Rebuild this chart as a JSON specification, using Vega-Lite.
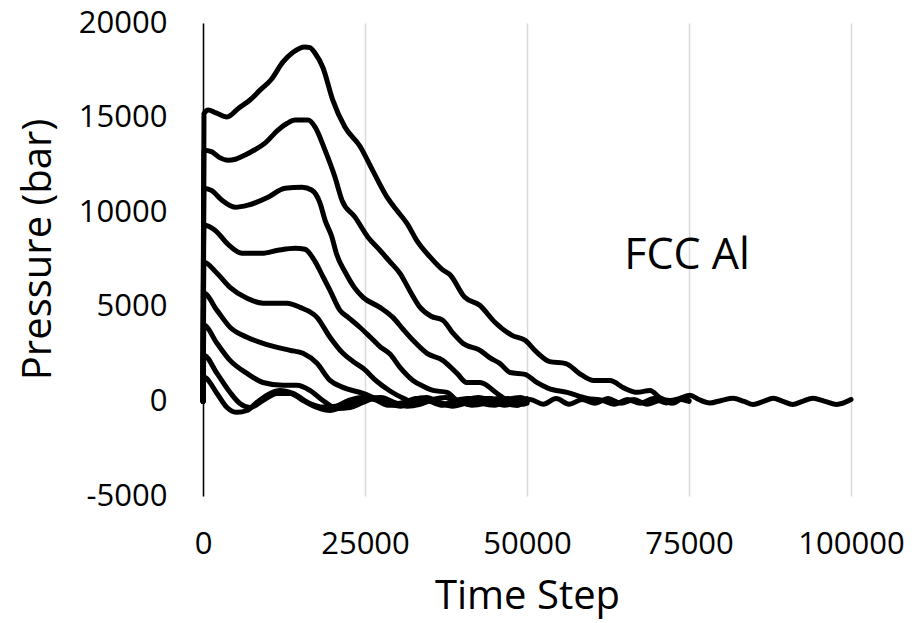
{
  "$schema": "https://vega.github.io/schema/vega-lite/v6.json",
  "width": 648,
  "height": 473,
  "autosize": "none",
  "padding": {"left": 203, "top": 23, "right": 67, "bottom": 127},
  "background": "white",
  "config": {"view": {"stroke": null}, "font": "Open Sans"},
  "datasets": {
    "curves": [
      {"c": 1, "t": 0, "p": 0}, {"c": 1, "t": 150, "p": 15200}, {"c": 1, "t": 800, "p": 15400}, {"c": 1, "t": 2000, "p": 15250}, {"c": 1, "t": 3700, "p": 15030}, {"c": 1, "t": 5500, "p": 15500}, {"c": 1, "t": 7250, "p": 15930}, {"c": 1, "t": 8800, "p": 16450}, {"c": 1, "t": 10500, "p": 17000}, {"c": 1, "t": 12350, "p": 17940}, {"c": 1, "t": 13900, "p": 18450}, {"c": 1, "t": 15700, "p": 18730}, {"c": 1, "t": 16500, "p": 18700}, {"c": 1, "t": 17300, "p": 18400}, {"c": 1, "t": 18500, "p": 17650}, {"c": 1, "t": 20000, "p": 15950}, {"c": 1, "t": 21900, "p": 14500}, {"c": 1, "t": 24200, "p": 13500}, {"c": 1, "t": 26200, "p": 12200}, {"c": 1, "t": 28400, "p": 10800}, {"c": 1, "t": 29900, "p": 10100}, {"c": 1, "t": 31500, "p": 9400}, {"c": 1, "t": 33000, "p": 8500}, {"c": 1, "t": 35000, "p": 7650}, {"c": 1, "t": 37000, "p": 6950}, {"c": 1, "t": 38100, "p": 6700}, {"c": 1, "t": 40400, "p": 5500}, {"c": 1, "t": 42700, "p": 5080}, {"c": 1, "t": 45000, "p": 4200}, {"c": 1, "t": 47700, "p": 3490}, {"c": 1, "t": 49700, "p": 3230}, {"c": 1, "t": 51500, "p": 2600}, {"c": 1, "t": 53500, "p": 2100}, {"c": 1, "t": 56000, "p": 2000}, {"c": 1, "t": 58000, "p": 1500}, {"c": 1, "t": 60200, "p": 1110}, {"c": 1, "t": 62800, "p": 1100}, {"c": 1, "t": 65000, "p": 700}, {"c": 1, "t": 67000, "p": 480}, {"c": 1, "t": 69000, "p": 580}, {"c": 1, "t": 70500, "p": 200}, {"c": 1, "t": 72000, "p": 50}, {"c": 1, "t": 73500, "p": 150}, {"c": 1, "t": 75150, "p": 320}, {"c": 1, "t": 76500, "p": 100}, {"c": 1, "t": 78200, "p": -80}, {"c": 1, "t": 80000, "p": 50}, {"c": 1, "t": 81800, "p": 160}, {"c": 1, "t": 83500, "p": 0}, {"c": 1, "t": 84900, "p": -160}, {"c": 1, "t": 86500, "p": 0}, {"c": 1, "t": 88000, "p": 160}, {"c": 1, "t": 89500, "p": 0}, {"c": 1, "t": 91000, "p": -160}, {"c": 1, "t": 92500, "p": 0}, {"c": 1, "t": 94100, "p": 160}, {"c": 1, "t": 96000, "p": 0}, {"c": 1, "t": 97800, "p": -160}, {"c": 1, "t": 100000, "p": 100},

      {"c": 2, "t": 0, "p": 0}, {"c": 2, "t": 150, "p": 13280}, {"c": 2, "t": 1300, "p": 13200}, {"c": 2, "t": 2500, "p": 12900}, {"c": 2, "t": 3860, "p": 12750}, {"c": 2, "t": 5000, "p": 12800}, {"c": 2, "t": 6500, "p": 13020}, {"c": 2, "t": 8000, "p": 13300}, {"c": 2, "t": 9570, "p": 13650}, {"c": 2, "t": 11570, "p": 14340}, {"c": 2, "t": 13000, "p": 14700}, {"c": 2, "t": 14200, "p": 14870}, {"c": 2, "t": 16200, "p": 14870}, {"c": 2, "t": 17300, "p": 14500}, {"c": 2, "t": 18830, "p": 13280}, {"c": 2, "t": 20370, "p": 11850}, {"c": 2, "t": 21450, "p": 10630}, {"c": 2, "t": 23460, "p": 9740}, {"c": 2, "t": 25460, "p": 8680}, {"c": 2, "t": 27300, "p": 7990}, {"c": 2, "t": 28800, "p": 7400}, {"c": 2, "t": 30400, "p": 6770}, {"c": 2, "t": 32000, "p": 5800}, {"c": 2, "t": 33500, "p": 4970}, {"c": 2, "t": 35200, "p": 4500}, {"c": 2, "t": 37000, "p": 4290}, {"c": 2, "t": 38600, "p": 3600}, {"c": 2, "t": 40100, "p": 3070}, {"c": 2, "t": 42750, "p": 2700}, {"c": 2, "t": 44300, "p": 2300}, {"c": 2, "t": 45800, "p": 2010}, {"c": 2, "t": 47400, "p": 1530}, {"c": 2, "t": 49700, "p": 1430}, {"c": 2, "t": 51500, "p": 1000}, {"c": 2, "t": 53300, "p": 690}, {"c": 2, "t": 56170, "p": 480}, {"c": 2, "t": 59300, "p": 160}, {"c": 2, "t": 61700, "p": 50}, {"c": 2, "t": 63500, "p": -150}, {"c": 2, "t": 65500, "p": 100}, {"c": 2, "t": 67500, "p": -100}, {"c": 2, "t": 69500, "p": 150}, {"c": 2, "t": 71500, "p": -80}, {"c": 2, "t": 73500, "p": 120}, {"c": 2, "t": 75000, "p": 0},

      {"c": 3, "t": 0, "p": 0}, {"c": 3, "t": 150, "p": 11270}, {"c": 3, "t": 1300, "p": 11150}, {"c": 3, "t": 2930, "p": 10630}, {"c": 3, "t": 4940, "p": 10260}, {"c": 3, "t": 6950, "p": 10370}, {"c": 3, "t": 10030, "p": 10790}, {"c": 3, "t": 12650, "p": 11270}, {"c": 3, "t": 15280, "p": 11320}, {"c": 3, "t": 16820, "p": 11160}, {"c": 3, "t": 18060, "p": 10480}, {"c": 3, "t": 18830, "p": 9580}, {"c": 3, "t": 19900, "p": 8680}, {"c": 3, "t": 20600, "p": 7800}, {"c": 3, "t": 22000, "p": 6800}, {"c": 3, "t": 23400, "p": 6000}, {"c": 3, "t": 24700, "p": 5500}, {"c": 3, "t": 27300, "p": 4970}, {"c": 3, "t": 29300, "p": 4440}, {"c": 3, "t": 30900, "p": 3800}, {"c": 3, "t": 32400, "p": 3230}, {"c": 3, "t": 34570, "p": 2540}, {"c": 3, "t": 37000, "p": 2170}, {"c": 3, "t": 39200, "p": 1480}, {"c": 3, "t": 40700, "p": 1000}, {"c": 3, "t": 42750, "p": 1000}, {"c": 3, "t": 45400, "p": 420}, {"c": 3, "t": 46900, "p": 50}, {"c": 3, "t": 48500, "p": -200}, {"c": 3, "t": 50500, "p": 100}, {"c": 3, "t": 52500, "p": -150}, {"c": 3, "t": 54500, "p": 150}, {"c": 3, "t": 56500, "p": -150}, {"c": 3, "t": 58500, "p": 100}, {"c": 3, "t": 60500, "p": -100}, {"c": 3, "t": 62500, "p": 150}, {"c": 3, "t": 64500, "p": -100}, {"c": 3, "t": 66500, "p": 100}, {"c": 3, "t": 68500, "p": -150}, {"c": 3, "t": 70500, "p": 50}, {"c": 3, "t": 72500, "p": -100}, {"c": 3, "t": 74000, "p": 150}, {"c": 3, "t": 75000, "p": 50},

      {"c": 4, "t": 0, "p": 0}, {"c": 4, "t": 150, "p": 9310}, {"c": 4, "t": 1850, "p": 9050}, {"c": 4, "t": 3860, "p": 8300}, {"c": 4, "t": 6000, "p": 7830}, {"c": 4, "t": 9100, "p": 7830}, {"c": 4, "t": 11570, "p": 7990}, {"c": 4, "t": 14200, "p": 8100}, {"c": 4, "t": 15740, "p": 8040}, {"c": 4, "t": 17280, "p": 7400}, {"c": 4, "t": 18500, "p": 6600}, {"c": 4, "t": 19600, "p": 5870}, {"c": 4, "t": 21140, "p": 4810}, {"c": 4, "t": 22400, "p": 4440}, {"c": 4, "t": 24200, "p": 3920}, {"c": 4, "t": 25800, "p": 3400}, {"c": 4, "t": 27300, "p": 2900}, {"c": 4, "t": 28860, "p": 2500}, {"c": 4, "t": 30400, "p": 1800}, {"c": 4, "t": 32400, "p": 1110}, {"c": 4, "t": 34000, "p": 800}, {"c": 4, "t": 35500, "p": 580}, {"c": 4, "t": 37650, "p": 480}, {"c": 4, "t": 39200, "p": 50}, {"c": 4, "t": 41000, "p": -150}, {"c": 4, "t": 43000, "p": 100}, {"c": 4, "t": 45000, "p": -100}, {"c": 4, "t": 47000, "p": 150}, {"c": 4, "t": 49000, "p": -100}, {"c": 4, "t": 50000, "p": 0},

      {"c": 5, "t": 0, "p": 0}, {"c": 5, "t": 150, "p": 7350}, {"c": 5, "t": 2160, "p": 6770}, {"c": 5, "t": 4170, "p": 6030}, {"c": 5, "t": 6790, "p": 5450}, {"c": 5, "t": 9260, "p": 5190}, {"c": 5, "t": 12960, "p": 5190}, {"c": 5, "t": 14970, "p": 4970}, {"c": 5, "t": 17590, "p": 4440}, {"c": 5, "t": 19600, "p": 3390}, {"c": 5, "t": 21600, "p": 2540}, {"c": 5, "t": 23200, "p": 2100}, {"c": 5, "t": 24700, "p": 1750}, {"c": 5, "t": 26850, "p": 1050}, {"c": 5, "t": 28860, "p": 550}, {"c": 5, "t": 31000, "p": 150}, {"c": 5, "t": 33000, "p": -100}, {"c": 5, "t": 35000, "p": 100}, {"c": 5, "t": 37000, "p": -150}, {"c": 5, "t": 39000, "p": 50}, {"c": 5, "t": 41000, "p": 150}, {"c": 5, "t": 43000, "p": -100}, {"c": 5, "t": 45000, "p": -200}, {"c": 5, "t": 47000, "p": 50}, {"c": 5, "t": 49000, "p": 150}, {"c": 5, "t": 50000, "p": 0},

      {"c": 6, "t": 0, "p": 0}, {"c": 6, "t": 150, "p": 5710}, {"c": 6, "t": 2160, "p": 4810}, {"c": 6, "t": 4170, "p": 3920}, {"c": 6, "t": 6790, "p": 3390}, {"c": 6, "t": 9260, "p": 3070}, {"c": 6, "t": 13430, "p": 2700}, {"c": 6, "t": 15430, "p": 2540}, {"c": 6, "t": 17590, "p": 2010}, {"c": 6, "t": 19600, "p": 1110}, {"c": 6, "t": 21600, "p": 740}, {"c": 6, "t": 24700, "p": 420}, {"c": 6, "t": 27000, "p": 100}, {"c": 6, "t": 29000, "p": -150}, {"c": 6, "t": 31000, "p": -50}, {"c": 6, "t": 33000, "p": 150}, {"c": 6, "t": 35000, "p": 0}, {"c": 6, "t": 37000, "p": -200}, {"c": 6, "t": 39000, "p": -100}, {"c": 6, "t": 41000, "p": 150}, {"c": 6, "t": 43000, "p": 50}, {"c": 6, "t": 45000, "p": -150}, {"c": 6, "t": 47000, "p": 100}, {"c": 6, "t": 49000, "p": 200}, {"c": 6, "t": 50000, "p": 50},

      {"c": 7, "t": 0, "p": 0}, {"c": 7, "t": 150, "p": 4020}, {"c": 7, "t": 2160, "p": 3070}, {"c": 7, "t": 4170, "p": 2170}, {"c": 7, "t": 6790, "p": 1480}, {"c": 7, "t": 9260, "p": 1000}, {"c": 7, "t": 12350, "p": 850}, {"c": 7, "t": 14500, "p": 850}, {"c": 7, "t": 16500, "p": 580}, {"c": 7, "t": 18500, "p": 50}, {"c": 7, "t": 20680, "p": -370}, {"c": 7, "t": 22700, "p": -320}, {"c": 7, "t": 24700, "p": -50}, {"c": 7, "t": 26500, "p": 150}, {"c": 7, "t": 28500, "p": -100}, {"c": 7, "t": 30500, "p": -250}, {"c": 7, "t": 32500, "p": 0}, {"c": 7, "t": 34500, "p": 150}, {"c": 7, "t": 36500, "p": -100}, {"c": 7, "t": 38500, "p": -200}, {"c": 7, "t": 40500, "p": 50}, {"c": 7, "t": 42500, "p": 200}, {"c": 7, "t": 44500, "p": 0}, {"c": 7, "t": 46500, "p": -200}, {"c": 7, "t": 48500, "p": -50}, {"c": 7, "t": 50000, "p": 150},

      {"c": 8, "t": 0, "p": 0}, {"c": 8, "t": 150, "p": 2430}, {"c": 8, "t": 2160, "p": 1480}, {"c": 8, "t": 4170, "p": 480}, {"c": 8, "t": 5700, "p": -110}, {"c": 8, "t": 7250, "p": -320}, {"c": 8, "t": 9260, "p": 50}, {"c": 8, "t": 11420, "p": 420}, {"c": 8, "t": 13430, "p": 420}, {"c": 8, "t": 15430, "p": 50}, {"c": 8, "t": 17590, "p": -320}, {"c": 8, "t": 19600, "p": -480}, {"c": 8, "t": 21500, "p": -300}, {"c": 8, "t": 23500, "p": -50}, {"c": 8, "t": 25500, "p": 150}, {"c": 8, "t": 27500, "p": 200}, {"c": 8, "t": 29500, "p": -50}, {"c": 8, "t": 31500, "p": -250}, {"c": 8, "t": 33500, "p": -150}, {"c": 8, "t": 35500, "p": 100}, {"c": 8, "t": 37500, "p": 200}, {"c": 8, "t": 39500, "p": 0}, {"c": 8, "t": 41500, "p": -200}, {"c": 8, "t": 43500, "p": -100}, {"c": 8, "t": 45500, "p": 150}, {"c": 8, "t": 47500, "p": 100}, {"c": 8, "t": 49500, "p": -150}, {"c": 8, "t": 50000, "p": -100},

      {"c": 9, "t": 0, "p": 0}, {"c": 9, "t": 150, "p": 1270}, {"c": 9, "t": 2160, "p": 420}, {"c": 9, "t": 3700, "p": -320}, {"c": 9, "t": 5250, "p": -580}, {"c": 9, "t": 6790, "p": -480}, {"c": 9, "t": 8330, "p": -50}, {"c": 9, "t": 10340, "p": 420}, {"c": 9, "t": 11880, "p": 580}, {"c": 9, "t": 13890, "p": 420}, {"c": 9, "t": 16500, "p": -110}, {"c": 9, "t": 18500, "p": -300}, {"c": 9, "t": 20500, "p": -250}, {"c": 9, "t": 22500, "p": 50}, {"c": 9, "t": 24500, "p": 200}, {"c": 9, "t": 26500, "p": 100}, {"c": 9, "t": 28500, "p": -200}, {"c": 9, "t": 30500, "p": -200}, {"c": 9, "t": 32500, "p": 100}, {"c": 9, "t": 34500, "p": 200}, {"c": 9, "t": 36500, "p": -50}, {"c": 9, "t": 38500, "p": -250}, {"c": 9, "t": 40500, "p": -100}, {"c": 9, "t": 42500, "p": 150}, {"c": 9, "t": 44500, "p": 150}, {"c": 9, "t": 46500, "p": -100}, {"c": 9, "t": 48500, "p": -200}, {"c": 9, "t": 50000, "p": 0}
    ],
    "notes": [{"t": 74700, "p": 7000, "label": "FCC Al"}]
  },
  "layer": [
    {
      "mark": {"type": "rule", "color": "#000000", "strokeWidth": 1},
      "encoding": {"y": {"datum": 0, "type": "quantitative", "scale": {"domain": [-5000, 20000], "nice": false}}}
    },
    {
      "data": {"name": "curves"},
      "mark": {"type": "line", "color": "#000000", "strokeWidth": 5, "strokeJoin": "round", "strokeCap": "round", "interpolate": "monotone", "clip": false},
      "encoding": {
        "x": {
          "field": "t", "type": "quantitative",
          "scale": {"domain": [0, 100000], "nice": false, "zero": false},
          "axis": {
            "title": "Time Step", "values": [0, 25000, 50000, 75000, 100000], "labelExpr": "toString(datum.value)",
            "labelFlush": false, "labelOverlap": false,
            "grid": true, "gridColor": "#d9d9d9", "gridWidth": 1.5, "domain": false, "ticks": false,
            "labelFontSize": 31, "labelColor": "#000000", "labelPadding": 33, "labelFont": "Open Sans",
            "titleFontSize": 40, "titleFontWeight": "normal", "titleColor": "#000000", "titleFont": "Open Sans",
            "titleY": 100, "titleBaseline": "middle"
          }
        },
        "y": {
          "field": "p", "type": "quantitative",
          "scale": {"domain": [-5000, 20000], "nice": false, "zero": false},
          "axis": {
            "title": "Pressure (bar)", "values": [-5000, 0, 5000, 10000, 15000, 20000], "labelExpr": "toString(datum.value)",
            "labelOverlap": false, "labelFlush": false,
            "grid": false, "domain": true, "domainColor": "#000000", "domainWidth": 1.5, "ticks": false,
            "labelFontSize": 31, "labelColor": "#000000", "labelPadding": 36, "labelFont": "Open Sans",
            "titleFontSize": 40, "titleFontWeight": "normal", "titleColor": "#000000", "titleFont": "Open Sans",
            "titleX": -165, "titleY": 226, "titleBaseline": "middle", "titleAngle": -90, "titleAlign": "center"
          }
        },
        "detail": {"field": "c", "type": "nominal"}
      }
    },
    {
      "data": {"name": "notes"},
      "mark": {"type": "text", "fontSize": 43, "font": "Open Sans", "color": "#000000", "align": "center", "baseline": "alphabetic"},
      "encoding": {
        "x": {"field": "t", "type": "quantitative"},
        "y": {"field": "p", "type": "quantitative"},
        "text": {"field": "label"}
      }
    }
  ]
}
